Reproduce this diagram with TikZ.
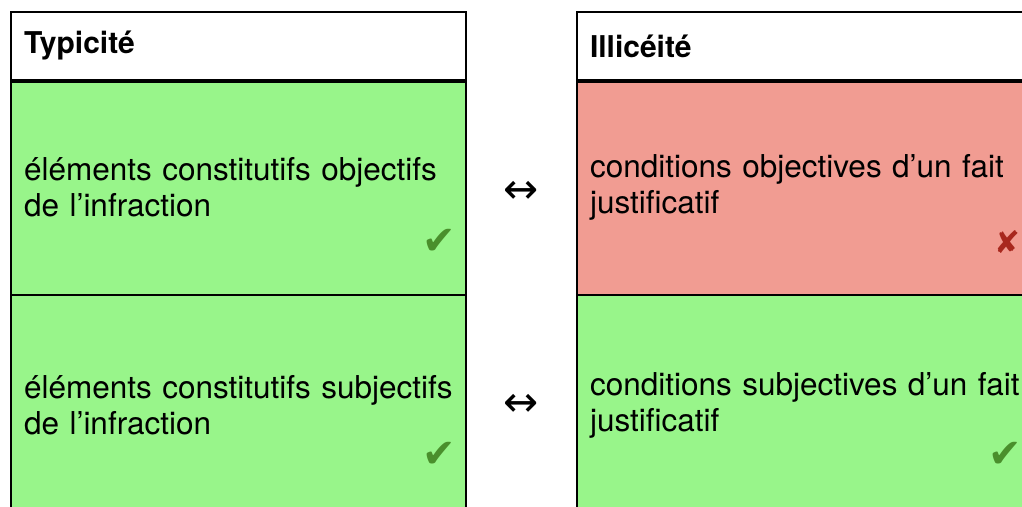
\documentclass[tikz,border=0pt]{standalone}
\usepackage{fontspec}
\setmainfont{TeX Gyre Heros}
\newfontfamily\symfont{DejaVu Sans}
\usepackage{xcolor}
\definecolor{okgreen}{HTML}{98F58A}
\definecolor{kored}{HTML}{F19C92}
\definecolor{checkgreen}{HTML}{4A8F2C}
\definecolor{crossred}{HTML}{A8281E}
\usetikzlibrary{calc}

\begin{document}
\begin{tikzpicture}[x=1pt,y=-1pt,
    cell/.style={draw,line width=2pt,rectangle,minimum width=455,text width=429,
      align=left,inner xsep=13,font=\fontsize{31.5}{36}\selectfont},
    headcell/.style={cell,fill=white,minimum height=68,font=\fontsize{30}{36}\selectfont\bfseries},
    verdict/.style={font=\symfont\fontsize{40}{40}\selectfont,inner sep=0pt}]
      \useasboundingbox (0,0) rectangle (1022,506);
      \clip (0,0) rectangle (1022,506);

      \node at (238.5,46) [headcell] (typ) {Typicité};
      \node at (238.5,187.5) [cell,fill=okgreen,minimum height=215] (typobj)
        {éléments constitutifs objectifs\\de l’infraction};
      \node at (238.5,405) [cell,fill=okgreen,minimum height=220] (typsubj)
        {éléments constitutifs subjectifs\\de l’infraction};

      \node at (804.5,46) [headcell] (ill) {Illicéité};
      \node at (804.5,187.5) [cell,fill=kored,minimum height=215] (illobj)
        {conditions objectives d’un fait\\justificatif};
      \node at (804.5,405) [cell,fill=okgreen,minimum height=220] (illsubj)
        {\mbox{conditions subjectives d’un fait}\\justificatif};

      \draw[line width=3pt] (typ.south west) -- (typ.south east);
      \draw[line width=3pt] (ill.south west) -- (ill.south east);

      \node at (439,242) [verdict,text=checkgreen] (okobj) {✔};
      \node at (1007,242) [verdict,text=crossred,font=\symfont\fontsize{31}{31}\selectfont] (koobj) {✘};
      \node at (439,455) [verdict,text=checkgreen] (oksubj) {✔};
      \node at (1005,455) [verdict,text=checkgreen] (okill) {✔};

      \node at (521,192) [font=\symfont\fontsize{42}{42}\selectfont] (eqobj) {↔};
      \node at (521,405) [font=\symfont\fontsize{42}{42}\selectfont] (eqsubj) {↔};
    \end{tikzpicture}
\end{document}
